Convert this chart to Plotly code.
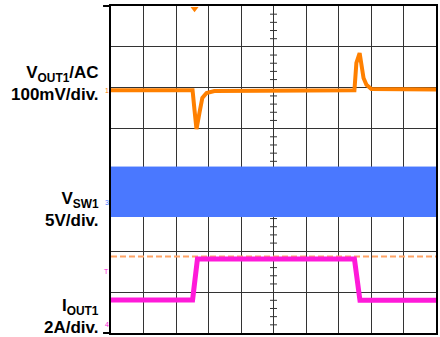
import plotly.graph_objects as go

# ---- data (time and amplitude in screen divisions) ----
vout_t = [0, 2.51, 2.57, 2.63, 2.72, 2.81, 2.94, 3.18, 7.49, 7.55, 7.65, 7.71, 7.77, 7.86, 8.01, 10]
vout_v = [5.94, 5.94, 5.45, 4.99, 5.38, 5.75, 5.87, 5.92, 5.94, 6.61, 6.85, 6.51, 6.24, 6.07, 5.97, 5.96]

vsw_t = [0, 10]
vsw_top = [4.06, 4.06]
vsw_bot = [2.85, 2.85]

iout_t = [0, 2.51, 2.66, 7.49, 7.66, 10]
iout_v = [0.81, 0.81, 1.81, 1.81, 0.80, 0.80]

ref_level_t = [0, 10]
ref_level_v = [1.87, 1.87]

labels = [
    ("V<sub>OUT1</sub>/AC<br>100mV/div.", 6.10),
    ("V<sub>SW1</sub><br>5V/div.", 3.02),
    ("I<sub>OUT1</sub><br>2A/div.", 0.41),
]

ORANGE = "#ff8000"
BLUE = "#4a78ff"
MAGENTA = "#ff1ad9"
GRID = "#333333"

fig = go.Figure()

# center graticule minor ticks
minor = [k / 5 for k in range(0, 41) if k % 5 != 0]
fig.add_trace(go.Scatter(x=[5] * len(minor), y=minor, mode="markers",
                         marker=dict(symbol="line-ew", size=5, line=dict(width=1, color=GRID)),
                         hoverinfo="skip", showlegend=False))

# reference dashed level
fig.add_trace(go.Scatter(x=ref_level_t, y=ref_level_v, mode="lines",
                         line=dict(color="#ffa466", width=2, dash="6px,3px"),
                         showlegend=False))

# VSW band
fig.add_trace(go.Scatter(x=vsw_t, y=vsw_bot, mode="lines", line=dict(color=BLUE, width=1),
                         showlegend=False))
fig.add_trace(go.Scatter(x=vsw_t, y=vsw_top, mode="lines", line=dict(color=BLUE, width=1),
                         fill="tonexty", fillcolor=BLUE, showlegend=False))

# VOUT
fig.add_trace(go.Scatter(x=vout_t, y=vout_v, mode="lines",
                         line=dict(color=ORANGE, width=4), showlegend=False))

# IOUT
fig.add_trace(go.Scatter(x=iout_t, y=iout_v, mode="lines",
                         line=dict(color=MAGENTA, width=5), showlegend=False))

# little channel / trigger markers
fig.add_trace(go.Scatter(x=[2.57], y=[7.93], mode="markers", cliponaxis=False,
                         marker=dict(symbol="triangle-down", size=7, color=ORANGE),
                         showlegend=False))
fig.add_trace(go.Scatter(x=[-0.2], y=[2.98], mode="markers", cliponaxis=False,
                         marker=dict(symbol="triangle-down", size=5, color=BLUE),
                         showlegend=False))

for txt, y in labels:
    fig.add_annotation(x=0, xref="paper", y=y, yref="y", xanchor="right", yanchor="middle",
                       xshift=-11, text=txt, showarrow=False, align="right", borderpad=0,
                       font=dict(family="Liberation Sans", size=17, color="black", weight="bold"))

small = [("1", 5.94, ORANGE), ("3", 3.2, BLUE), ("T", 1.5, MAGENTA), ("4", 0.2, MAGENTA)]
for txt, y, c in small:
    fig.add_annotation(x=0, xref="paper", y=y, yref="y", xanchor="right", yanchor="middle",
                       xshift=-1, text=txt, showarrow=False, borderpad=0,
                       font=dict(family="Liberation Sans", size=7, color=c))

# frame extensions to the left at top/bottom
for yp in (0, 1):
    fig.add_shape(type="line", xref="paper", yref="paper", x0=-8 / 327, x1=0, y0=yp, y1=yp,
                  line=dict(color="black", width=2))

axis_common = dict(showgrid=True, gridcolor=GRID, gridwidth=1, dtick=1, tick0=0,
                   showticklabels=False, ticks="", zeroline=False, showline=True,
                   mirror=True, linecolor="black", linewidth=2, fixedrange=True)
fig.update_xaxes(range=[0, 10], **axis_common)
fig.update_yaxes(range=[0, 8], **axis_common)

fig.update_layout(width=440, height=337, margin=dict(l=111, r=2, t=6, b=4, pad=0),
                  plot_bgcolor="white", paper_bgcolor="white", showlegend=False)

fig.write_html("out.html", config={"displayModeBar": False},
               post_script="document.body.style.margin='0';document.body.style.padding='0';")
